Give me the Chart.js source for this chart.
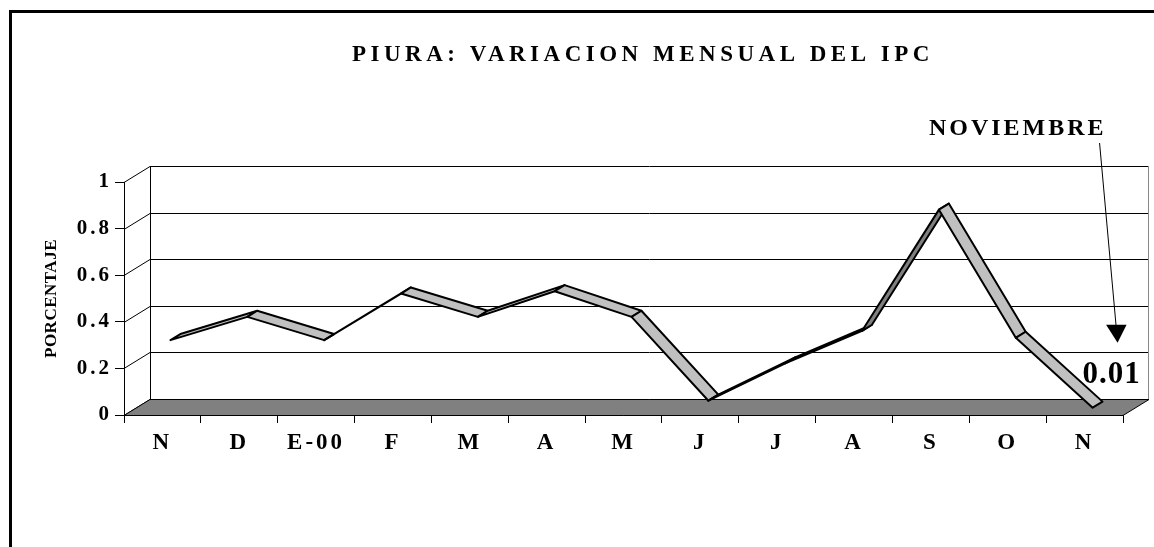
<!DOCTYPE html>
<html><head><meta charset="utf-8">
<script src="https://cdn.jsdelivr.net/npm/chart.js@4.4.1/dist/chart.umd.min.js"></script>
<style>html,body{margin:0;padding:0;background:#fff;overflow:hidden}#wrap{width:1154px;height:547px;position:relative}</style>
</head><body><div id="wrap"><canvas id="c" width="1154" height="547"></canvas></div>
<script>
const categories = ['N','D','E-00','F','M','A','M','J','J','A','S','O','N'];
const ipcValues = [0.30,0.40,0.30,0.50,0.40,0.51,0.40,0.04,0.20,0.34,0.86,0.31,0.01];
const yTickValues = [0,0.2,0.4,0.6,0.8,1];
const chartTitle = 'PIURA: VARIACION MENSUAL DEL IPC';
const yAxisTitle = 'PORCENTAJE';
const calloutText = 'NOVIEMBRE';

const FONT = 'Liberation Serif';
const DEPTH = {dx: 26, dy: -16};
const RIB = {front: 0.31, back: 0.69};

const threeD = {
  id: 'threeD',
  beforeUpdate(chart) { chart.ctx.letterSpacing = '3px'; },
  beforeDraw(chart) {
    const c = chart.ctx;
    c.save(); c.fillStyle = '#fff'; c.fillRect(0, 0, chart.width, chart.height); c.restore();
    c.letterSpacing = '3px';
  },
  beforeDatasetsDraw(chart) {
    const {ctx, chartArea: a, scales: {y}} = chart;
    const {dx, dy} = DEPTH;
    ctx.save();
    ctx.strokeStyle = '#000'; ctx.lineWidth = 1;
    yTickValues.forEach(v => {
      const py = Math.round(y.getPixelForValue(v)) + 0.5;
      ctx.beginPath();
      ctx.moveTo(a.left, py);
      ctx.lineTo(a.left + dx, py + dy);
      ctx.lineTo(a.right + dx, py + dy);
      ctx.stroke();
    });
    const L = Math.round(a.left + dx) + 0.5, R = Math.round(a.right + dx) - 0.5;
    ctx.beginPath(); ctx.moveTo(L, a.top + dy); ctx.lineTo(L, a.bottom + dy); ctx.stroke();
    ctx.strokeStyle = '#888';
    ctx.beginPath(); ctx.moveTo(R, a.top + dy); ctx.lineTo(R, a.bottom + dy); ctx.stroke();
    // floor
    const fy = Math.round(y.getPixelForValue(0)) + 0.5;
    ctx.beginPath();
    ctx.moveTo(a.left, fy); ctx.lineTo(a.right, fy);
    ctx.lineTo(a.right + dx, fy + dy); ctx.lineTo(a.left + dx, fy + dy);
    ctx.closePath();
    ctx.fillStyle = '#808080'; ctx.fill();
    ctx.strokeStyle = '#000'; ctx.stroke();
    ctx.restore();
  },
  afterDatasetsDraw(chart) {
    const {ctx} = chart;
    const {dx, dy} = DEPTH;
    const meta = chart.getDatasetMeta(0);
    const f = meta.data.map(p => ({x: p.x + dx * RIB.front, y: p.y + dy * RIB.front}));
    const b = meta.data.map(p => ({x: p.x + dx * RIB.back, y: p.y + dy * RIB.back}));
    ctx.save();
    ctx.lineWidth = 2; ctx.lineJoin = 'round'; ctx.strokeStyle = '#000';
    for (let i = 0; i < f.length - 1; i++) {
      const cross = (f[i+1].x - f[i].x) * (b[i].y - f[i].y) - (f[i+1].y - f[i].y) * (b[i].x - f[i].x);
      ctx.beginPath();
      ctx.moveTo(f[i].x, f[i].y); ctx.lineTo(f[i+1].x, f[i+1].y);
      ctx.lineTo(b[i+1].x, b[i+1].y); ctx.lineTo(b[i].x, b[i].y);
      ctx.closePath();
      ctx.fillStyle = cross < 0 ? '#C0C0C0' : '#808080';
      ctx.fill(); ctx.stroke();
    }
    ctx.restore();
  },
  afterDraw(chart) {
    const {ctx, chartArea: a} = chart;
    ctx.save();
    ctx.fillStyle = '#000';
    // title
    ctx.font = 'bold 23px "' + FONT + '"';
    ctx.letterSpacing = '4.5px';
    ctx.textAlign = 'left'; ctx.textBaseline = 'alphabetic';
    ctx.fillText(chartTitle, 352, 61);
    // y axis title
    ctx.save();
    ctx.font = 'bold 17px "' + FONT + '"';
    ctx.letterSpacing = '0.5px';
    ctx.translate(52, (a.top + a.bottom) / 2);
    ctx.rotate(-Math.PI / 2);
    ctx.textAlign = 'center'; ctx.textBaseline = 'middle';
    ctx.fillText(yAxisTitle, 0, 0);
    ctx.restore();
    // callout
    const meta = chart.getDatasetMeta(0);
    const last = meta.data[meta.data.length - 1];
    ctx.font = 'bold 24px "' + FONT + '"';
    ctx.letterSpacing = '3px';
    ctx.textAlign = 'right';
    ctx.fillText(calloutText, last.x + 22, 135);
    ctx.font = 'bold 31px "' + FONT + '"';
    ctx.letterSpacing = '1px';
    ctx.textAlign = 'left';
    ctx.fillText(ipcValues[ipcValues.length - 1].toFixed(2), last.x - 2, last.y - 30);
    // arrow
    ctx.strokeStyle = '#000'; ctx.lineWidth = 1;
    ctx.beginPath(); ctx.moveTo(last.x + 15, 143); ctx.lineTo(last.x + 31.5, last.y - 87); ctx.stroke();
    ctx.beginPath();
    ctx.moveTo(last.x + 21.5, last.y - 88);
    ctx.lineTo(last.x + 42, last.y - 88);
    ctx.lineTo(last.x + 33, last.y - 70);
    ctx.closePath(); ctx.fill();
    // frame
    ctx.fillRect(9, 10, 3, chart.height - 10);
    ctx.fillRect(9, 10, chart.width - 9, 3);
    ctx.restore();
    ctx.letterSpacing = '3px';
  }
};

new Chart(document.getElementById('c'), {
  type: 'line',
  data: {
    labels: categories,
    datasets: [{
      label: 'IPC',
      data: ipcValues,
      borderColor: 'rgba(0,0,0,0)',
      borderWidth: 0,
      pointRadius: 0,
      fill: false
    }]
  },
  options: {
    responsive: false,
    devicePixelRatio: 1,
    animation: false,
    layout: {padding: {left: 0, right: 31, top: 182, bottom: 72}},
    plugins: {legend: {display: false}, tooltip: {enabled: false}, title: {display: false}},
    scales: {
      x: {
        type: 'category',
        offset: true,
        grid: {display: true, drawOnChartArea: false, drawTicks: true, tickLength: 8, color: '#000', lineWidth: 1, offset: true},
        border: {display: true, color: '#000', width: 1},
        ticks: {color: '#000', font: {family: FONT, size: 23, weight: 'bold'}, padding: 6, maxRotation: 0, autoSkip: false},
        afterFit(s) { s.height = 60; }
      },
      y: {
        min: 0, max: 1,
        afterBuildTicks(s) { s.ticks = yTickValues.map(v => ({value: v})); },
        grid: {display: true, drawOnChartArea: false, drawTicks: true, tickLength: 9, color: '#000'},
        border: {display: true, color: '#000', width: 1},
        ticks: {color: '#000', font: {family: FONT, size: 21, weight: 'bold'}, padding: 3, callback: v => String(v)},
        afterFit(s) { s.width = 124; }
      }
    }
  },
  plugins: [threeD]
});
</script>
</body></html>
